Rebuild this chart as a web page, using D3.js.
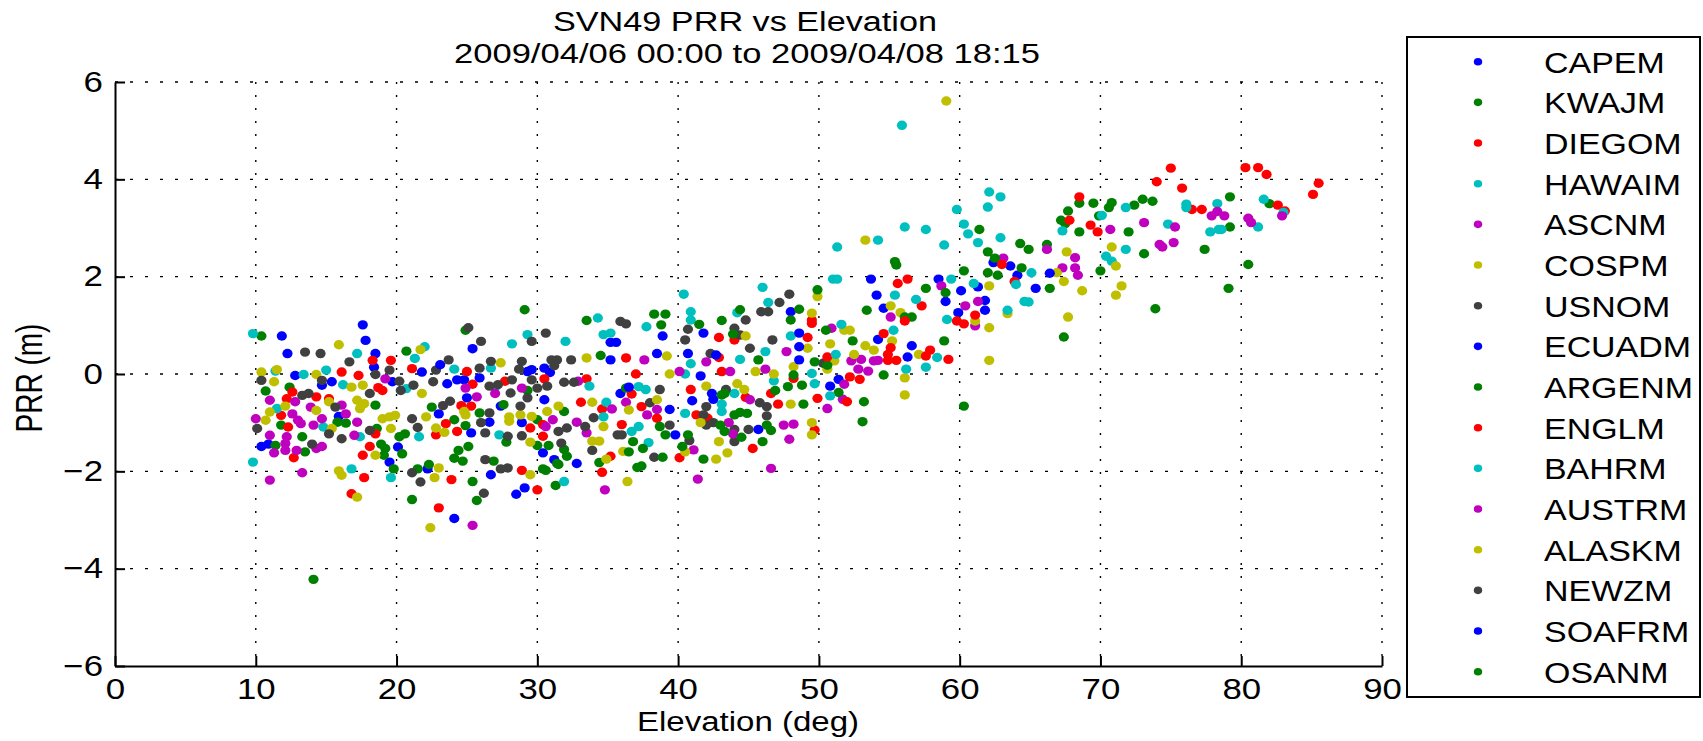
<!DOCTYPE html>
<html><head><meta charset="utf-8">
<script src="https://cdn.jsdelivr.net/npm/d3@7"></script>
<style>
body{margin:0;background:#fff;overflow:hidden;}
svg text{font-family:"Liberation Sans",Arial,Helvetica,sans-serif;fill:#000;}
</style></head><body>
<svg id="chart" width="1703" height="741"></svg>
<script>
// ---------------- DATA ----------------
const titleLines = ["SVN49 PRR vs Elevation", "2009/04/06 00:00 to 2009/04/08 18:15"];
const xLabel = "Elevation (deg)";
const yLabel = "PRR (m)";
const xTicks = [0,10,20,30,40,50,60,70,80,90];
const yTicks = [-6,-4,-2,0,2,4,6];
const stations = ["CAPEM","KWAJM","DIEGOM","HAWAIM","ASCNM","COSPM","USNOM","ECUADM","ARGENM","ENGLM","BAHRM","AUSTRM","ALASKM","NEWZM","SOAFRM","OSANM"];
const stationColors = ["#0000ff","#008000","#ff0000","#00bfbf","#bf00bf","#bfbf00","#404040","#0000ff","#008000","#ff0000","#00bfbf","#bf00bf","#bfbf00","#404040","#0000ff","#008000"];

// [elevation deg, PRR m]
const CAPEM = [[11.85,0.78],[17.6,1.01],[17.8,0.69],[12.25,0.42],[18.5,0.42],[12.8,-0.03],[18.4,0.14],[21.8,0.04],[14.7,-0.23],[15.4,-0.16],[19.7,-0.16],[23,-0.82],[15.9,-0.87],[10.4,-1.49],[10.9,-1.44],[20.1,-1.5],[19.5,-1.81],[22.2,-1.95],
 [53.7,1.95],[54.1,1.62],[54.6,1.35],[58.5,1.95],[59,1.49],[60.1,1.71],[59.9,1.26],[61.3,1.79],[61.8,1.51],[61.8,1.31],[62.4,2.29],[63.6,2.22],[64.1,2.03],[54.2,0.71],[56.3,0.35],[56.6,0.58],[51.4,-0.11],[50.8,-0.25]];
const ECUADM = [[25.4,0.52],[23.1,0.19],[29.3,0.05],[29.6,0.09],[30.5,0.12],[35.2,0.29],[35.2,0.65],[35.6,0.65],[30.9,0.03],[23.6,-0.2],[24.3,-0.12],[24.8,-0.12],[25.9,-0.08],[30.5,-0.53],[25,-0.49],[27.4,-0.66],[26.6,-0.99],[25.3,-1.21],[28.9,-1.0],[30.4,-1.62],[35.9,-0.4],[32.8,-1.84],[31.2,-1.76],[26.7,-2.07],[29.1,-2.34],[28.5,-2.47],[24.1,-2.97]];
const SOAFRM = [[38.9,0.78],[38.5,0.42],[41.8,0.84],[40.7,0.42],[42.7,0.39],[48,1.28],[48.6,0.84],[48.6,0.56],[48.6,0.29],[41.6,-0.04],[42.4,-0.4],[42.5,-0.52],[41,-0.55],[45.7,-1.14],[39.8,-1.25],[39.4,-0.73],[36.5,-0.27],
 [66.4,2.07],[65.4,1.76]];
const KWAJM = [[10.4,0.78],[20.7,0.47],[10.7,-0.35],[12.4,-0.27],[18.5,-0.64],[22.5,-0.68],[11.8,-1.05],[15.8,-0.99],[16.4,-1.01],[18.6,-1.12],[20.2,-1.29],[20.6,-1.23],[13.3,-1.29],[11.4,-1.47],[13.5,-1.6],[18.9,-1.44],[19.2,-1.53],[20.4,-1.64],[19.1,-1.67],[19.8,-1.95],[21.5,-1.95],[22.3,-1.86],[21.1,-2.58],[14.1,-4.22],
 [64.9,2.56],[66.2,2.66],[66.4,1.76],[67.4,0.76],[67.7,3.35],[67.2,3.16],[67.5,3.09],[68.5,3.51],[68.5,2.92],[69.5,3.51],[69.9,3.25],[70.6,3.42],[70.8,3.52],[70,2.12],[72,2.92],[72.4,3.47],[73,3.59],[73.7,3.55],[73.1,2.47],[73.9,1.34],[77.4,2.56],[79.2,3.64],[79.2,3.02],[82,3.5],[80.5,2.25],[79.1,1.76]];
const ARGENM = [[29.1,1.32],[24.9,0.9],[33.5,1.1],[34.5,0.38],[29.3,-0.34],[27.6,-0.63],[25.9,-0.8],[24.9,-1.06],[24.1,-0.94],[30,-0.94],[31.9,-0.77],[27.8,-1.4],[30,-1.47],[30.8,-1.47],[36.3,-0.29],[31.9,-1.55],[32.1,-1.69],[34.4,-1.82],[31.4,-1.84],[31.5,-1.86],[26.9,-1.79],[24.7,-1.79],[24.1,-1.73],[24.4,-1.57],[25.1,-1.49],[25.4,-2.21],[30.4,-1.95],[30.6,-1.98],[31.3,-2.29],[25.7,-2.6],
 [61.4,2.97],[55.4,2.31],[55.5,2.24],[57.6,1.76],[53.4,1.31],[56.1,1.17],[56.6,1.17],[59,1.67],[60.3,2.12],[62,2.51],[62.5,2.38],[62,2.08],[62.7,2.03],[64.3,2.68],[64.4,2.18],[60.3,-0.66],[50.5,0.9],[52.4,0.68],[58.9,0.68],[54.6,-0.02],[50.6,0.18],[51.4,-0.38],[53.2,-0.57],[53.1,-0.98]];
const OSANM = [[38.3,1.23],[39.1,1.23],[38.8,1.01],[41.5,1.02],[43.1,1.1],[44.4,1.32],[43.9,0.82],[48.6,1.33],[48,1.11],[49.9,1.73],[45.7,0.29],[48.2,-0.02],[49.7,0.25],[48.8,-0.23],[47.8,-0.26],[46.9,-0.34],[43.3,-0.4],[43.1,-0.43],[48.9,-0.62],[43,-1.05],[44,-0.84],[44.4,-0.79],[44.9,-0.81],[46.3,-1.05],[46.6,-1.16],[43.3,-1.18],[40.7,-1.25],[40.3,-1.49],[41.8,-1.75],[44.5,-1.3],[46,-1.39],[39.1,-1.25],[38.7,-1.08],[36.8,-1.39],[37.5,-1.53],[38.9,-1.71],[37.1,-1.92],[37.4,-1.89],[36.5,-1.6]];
const DIEGOM = [[18.3,0.28],[19.6,0.28],[16.1,0.04],[17.3,-0.03],[21.1,0.11],[18.7,-0.28],[19,-0.34],[12.6,-0.37],[14.3,-0.47],[15.2,-0.51],[12.2,-0.51],[11.8,-0.85],[12.3,-1.09],[18.5,-1.23],[12.7,-1.72],[18.1,-1.49],[17.6,-1.67],[17.7,-2.13],[16.8,-2.46],[23,-2.75],
 [37,0.0],[42.9,0.75],[44,0.7],[42.9,0.34],[49.5,1.11],[49.5,1.04],[49.2,0.75],[43.1,0.05],[48.2,-0.09],[46.6,-0.4],[40.9,-0.32],[44.8,-0.48],[47.1,-0.62],[49.9,-0.5],[41.3,-0.84],[42.1,-0.91],[40.1,-1.72],[45.3,-1.53],[49.7,-1.15],[38.5,-0.91],[37.4,-0.67],[36.7,-0.41],
 [67.8,3.16],[68.5,3.64],[69.3,3.06],[69.8,2.92],[74,3.95],[75,4.23],[75.8,3.82],[76.5,3.38],[77.2,3.38],[80.3,4.24],[81.2,4.24],[81.8,4.1],[85.5,3.92],[85.1,3.69],[82.6,3.47],[83.1,3.35]];
const ENGLM = [[25,0.05],[36.3,0.33],[25.4,-0.21],[27.7,-0.15],[30.5,-0.1],[33.5,-0.1],[24.6,-0.65],[25.3,-0.66],[23.5,-1.02],[22.8,-1.25],[24.3,-1.18],[30.4,-1.04],[29.5,-1.11],[30.4,-1.28],[34.6,-0.72],[33.1,-0.58],[36,-1.04],[35.2,-1.69],[23.9,-2.17],[28.9,-1.98],[30,-2.38],[34.6,-2.02],
 [55.6,1.86],[56.3,1.95],[57.3,1.4],[56.1,1.09],[59.8,1.09],[60.3,1.03],[61.1,1.21],[63,2.25],[63.9,1.9],[54.6,0.83],[55.1,0.54],[54.9,0.4],[50.6,0.35],[54.9,0.28],[55.5,0.28],[57.6,0.37],[57.9,0.49],[59.2,0.3],[52.9,-0.11],[52.2,-0.06],[52,-0.57]];
const HAWAIM = [[9.8,0.83],[17.2,0.42],[22,0.56],[21.3,0.32],[11.4,0.06],[13.4,-0.01],[15,0.08],[16.2,-0.22],[20.7,-0.3],[11.5,-0.71],[14.8,-1.09],[17.4,-1.29],[21.6,-1.29],[9.8,-1.81],[16.8,-1.95],[19.6,-2.13],
 [37.75,0.97],[40.4,1.64],[40.9,1.28],[40.9,1.11],[44.2,1.26],[46,1.78],[46.4,1.47],[48,0.78],[46.2,0.46],[44.4,0.3],[40.9,0.21],[40.5,0.0],[46.8,-0.14],[49.5,0.01],[49.7,-0.2],[44,-0.4],[43.1,-0.62],[43.1,-0.77],[40.5,-0.81],[37.2,-0.26],[37.7,-0.32],[37.2,-1.08],[36.7,-1.18],[37.9,-1.41],
 [65.1,2.08],[64.9,1.48],[67.3,2.94],[70.1,3.26],[70.4,2.42],[70.8,2.32],[71.8,2.56],[71.8,3.42],[76.1,3.49],[76.1,3.42],[74.8,3.08],[78.3,3.5],[77.8,2.92],[78.4,2.97],[78.6,2.97],[81.6,3.59],[83,3.32],[81.2,3.02]];
const BAHRM = [[34.3,1.15],[29.3,0.81],[28.2,0.62],[32,0.67],[34.7,0.81],[35.2,0.84],[24.1,0.1],[26.7,0.12],[33.7,-0.25],[27,-0.27],[27.3,-1.25],[34.7,-0.88],[34.9,-0.58],[31.9,-2.21],
 [55.9,5.11],[62.1,3.74],[62.9,3.64],[62,3.43],[59.8,3.38],[56.1,3.02],[57.6,2.97],[60.3,3.08],[60.6,2.88],[61.3,2.7],[62.9,2.8],[58.9,2.65],[51.3,2.61],[54.2,2.75],[51,1.95],[51.3,1.95],[55.4,1.62],[56.9,1.53],[59.4,1.95],[59.1,1.12],[61,1.86],[64,1.84],[63.4,1.31],[64.6,1.49],[51.6,1.02],[55.3,0.9],[51.2,0.4],[58.4,0.34],[57.6,0.14],[56.2,0.1],[50.8,-0.45]];
const ASCNM = [[19.2,-0.1],[11,-0.54],[12.8,-0.57],[12.6,-0.82],[13,-0.95],[13.9,-0.68],[14.7,-0.92],[16.1,-0.64],[16.4,-0.82],[10,-0.92],[13.2,-1.02],[14.1,-1.05],[17.2,-0.99],[17,-1.26],[11,-1.26],[12.2,-1.29],[12.1,-1.43],[14.7,-1.49],[14.3,-1.53],[11.3,-1.62],[12.1,-1.57],[12.9,-1.57],[13.3,-2.03],[11,-2.18],
 [55.1,1.17],[58.7,1.81],[60.4,1.4],[61.1,0.99],[61.3,1.49],[63.1,2.38],[50.9,0.94],[52.3,0.27],[53,0.3],[53.9,0.27],[54.2,0.28],[52.8,0.1],[53.5,0.06],[51.8,-0.21],[51.7,-0.52],[50.6,-0.71]];
const AUSTRM = [[24.9,-0.29],[32.9,-0.15],[28.9,-0.29],[27,-0.4],[25.7,-0.47],[30.6,-1.08],[31.1,-0.94],[32.8,-0.99],[33.5,-1.21],[35.3,-0.72],[36.3,-0.58],[25.4,-3.11],[34.8,-2.38],
 [37.6,0.29],[47.7,0.46],[42,0.25],[40.1,0.05],[43.7,0.05],[46.2,0.1],[45.1,-0.53],[43.6,-1.0],[43.9,-1.23],[41.1,-1.56],[47.5,-1.05],[48.2,-1.03],[47.9,-1.34],[46.6,-1.94],[41.4,-2.16],[38.5,-0.73],[37.8,-0.84],
 [66.2,2.56],[67.3,2.18],[68.2,2.18],[68.4,2.03],[68.2,2.39],[70.7,2.97],[73.1,3.11],[75.3,3.02],[74.2,2.66],[74.4,2.61],[75.2,2.7],[77.9,3.25],[78.3,3.34],[78.8,3.25],[82.9,3.25],[80.5,3.2],[80.7,3.11]];
const COSPM = [[15.9,0.6],[21.7,0.5],[10.4,0.04],[11.5,0.09],[14.3,-0.01],[11.3,-0.16],[16.8,-0.27],[17.6,-0.23],[21.8,-0.4],[15.2,-0.57],[11,-0.78],[12.1,-0.66],[14.3,-0.75],[17.2,-0.54],[17.7,-0.61],[17.4,-0.71],[19,-0.92],[19.5,-0.88],[19.9,-0.85],[22.1,-0.88],[10.7,-0.95],[15.4,-1.12],[19.6,-1.12],[18.5,-1.67],[15.9,-1.99],[16.1,-2.08],[22.7,-2.13],[17.2,-2.53],[22.4,-3.16],
 [59.05,5.61],[53.3,2.75],[55.1,1.4],[55.8,1.26],[61.1,1.09],[62.1,1.81],[62.1,0.95],[62.1,0.28],[63.4,1.24],[51.8,0.9],[52.2,0.9],[50.8,0.62],[55.2,0.68],[53.3,0.58],[53.9,0.49],[51.1,0.27],[52.5,0.4],[57.1,0.4],[56.1,-0.08],[56.1,-0.43],[50.6,0.1]];
const ALASKM = [[27.4,0.23],[33.5,0.33],[24.8,-0.77],[24.9,-0.84],[22.8,-1.11],[23.4,-1.2],[28,-0.88],[28,-0.97],[28.8,-0.84],[29.6,-0.87],[30.7,-0.77],[31.5,-0.66],[29.5,-1.4],[34.7,-1.08],[33.9,-0.58],[33.9,-1.38],[34.4,-1.38],[34.9,-1.75],[36.1,-1.59],[23,-1.93],[29.5,-2.07],[36.4,-2.21],
 [39.2,0.37],[39.4,0.0],[44.8,0.78],[49.5,1.25],[49.9,1.59],[49.2,0.53],[45.5,0.05],[46.8,0.0],[48.2,0.15],[44.2,-0.2],[44.7,-0.32],[42,-0.25],[48,-0.62],[41.6,-1.0],[40.5,-1.6],[42.7,-1.75],[43.5,-1.62],[42.9,-1.39],[49.5,-1.0],[49.5,-1.25],[38.5,-0.53],[36.5,-0.74],
 [66.9,2.08],[67.6,2.51],[67.4,1.9],[68.7,1.71],[67.7,1.17],[70.8,2.61],[71.1,2.22],[71.5,1.81],[71.1,1.62]];
const USNOM = [[13.5,0.45],[14.6,0.42],[16.65,0.25],[22.8,0.08],[18.5,-0.01],[19.5,0.08],[10.4,-0.13],[14.7,-0.13],[20.2,-0.15],[20.3,-0.34],[21.2,-0.23],[22.6,-0.16],[13.3,-0.44],[13.75,-0.4],[15.65,-0.68],[18.1,-0.4],[21.1,-0.92],[10.1,-1.12],[16.1,-1.33],[15.2,-1.23],[18.1,-1.16],[21.5,-1.1],[14,-1.44],[21.1,-2.03],[21.7,-2.22],
 [40.7,0.92],[40.5,0.7],[44,0.94],[44.8,1.11],[44.4,0.8],[45.1,0.53],[42.3,0.42],[47.2,1.47],[47.9,1.64],[45.9,1.28],[46.4,1.28],[46.7,0.7],[50.3,0.22],[43.4,-0.32],[45.8,-0.59],[42,-0.67],[41.8,-0.84],[42,-1.05],[42.5,-1.0],[45,-1.14],[46.3,-0.86],[46.3,-0.67],[44,-1.14],[40.8,-1.37],[44,-1.39],[39.4,-1.05],[38,-0.59],[38.7,-0.32],[38.3,-1.71]];
const NEWZM = [[25.1,0.95],[35.9,1.08],[36.3,1.03],[30.6,0.84],[29.6,0.67],[26,0.67],[23.7,0.29],[25.9,0.12],[26.7,0.26],[28.9,0.26],[28.7,0.1],[31,0.29],[31.4,0.29],[32.4,0.29],[31.2,0.17],[26.6,-0.25],[27.2,-0.22],[28.2,-0.12],[29.6,-0.12],[30,-0.29],[30.7,-0.25],[31.9,-0.17],[32.6,-0.17],[28.1,-0.39],[29.3,-0.49],[23.8,-0.56],[23.3,-0.65],[26.6,-0.8],[28.8,-0.66],[26,-1.0],[26.3,-1.21],[28.9,-1.27],[27.9,-1.28],[31.7,-1.42],[31.5,-1.18],[32.1,-1.11],[33.4,-1.08],[34,-0.9],[35.7,-1.25],[36,-1.25],[33.9,-1.57],[26.3,-1.76],[27.4,-1.95],[27.9,-1.93],[26.2,-2.45]];

const seriesData = [CAPEM,KWAJM,DIEGOM,HAWAIM,ASCNM,COSPM,USNOM,ECUADM,ARGENM,ENGLM,BAHRM,AUSTRM,ALASKM,NEWZM,SOAFRM,OSANM];

// ---------------- DRAWING ----------------
const W = 1703, H = 741;
const plot = {left:115, right:1382, top:82, bottom:666};
const x = d3.scaleLinear().domain([0,90]).range([plot.left, plot.right]);
const y = d3.scaleLinear().domain([-6,6]).range([plot.bottom, plot.top]);
const svg = d3.select("#chart");
svg.append("rect").attr("width",W).attr("height",H).attr("fill","#fff");

function stretch(sel, k){
  sel.each(function(){
    const l = this.getComputedTextLength();
    this.setAttribute("textLength", (l*k).toFixed(1));
    this.setAttribute("lengthAdjust","spacingAndGlyphs");
  });
}

// grid
const grid = svg.append("g");
grid.selectAll("line.gx").data(xTicks.filter(d=>d!==0)).join("line").attr("class","gx")
  .attr("x1",d=>x(d)).attr("x2",d=>x(d)).attr("y1",plot.top).attr("y2",plot.bottom)
  .attr("stroke","#000").attr("stroke-width",1.4).attr("stroke-dasharray","2,11");
grid.selectAll("line.gy").data(yTicks.filter(d=>d!==-6)).join("line").attr("class","gy")
  .attr("x1",plot.left).attr("x2",plot.right).attr("y1",d=>y(d)).attr("y2",d=>y(d))
  .attr("stroke","#000").attr("stroke-width",1.4).attr("stroke-dasharray","3,12");

// points
seriesData.forEach((pts,i)=>{
  svg.append("g").selectAll("ellipse").data(pts).join("ellipse")
    .attr("cx",d=>x(d[0])).attr("cy",d=>y(d[1]))
    .attr("rx",5.1).attr("ry",4.7).attr("fill",stationColors[i]);
});

// axes
const fmt = d3.format("d");
const gx = svg.append("g").attr("transform",`translate(0,${plot.bottom})`)
  .call(d3.axisBottom(x).tickValues(xTicks).tickSizeInner(-10).tickSizeOuter(0).tickPadding(12).tickFormat(fmt));
const gy = svg.append("g").attr("transform",`translate(${plot.left},0)`)
  .call(d3.axisLeft(y).tickValues(yTicks).tickSizeInner(-10).tickSizeOuter(0).tickPadding(12).tickFormat(fmt));
[gx,gy].forEach(g=>{
  g.attr("font-family",null).attr("font-size",null);
  g.select(".domain").attr("stroke","#000").attr("stroke-width",2);
  g.selectAll(".tick line").attr("stroke","#000").attr("stroke-width",2);
  g.selectAll(".tick text").attr("font-size","29px").attr("fill","#000");
  stretch(g.selectAll(".tick text"),1.2);
});

// title
svg.append("text").attr("x",745).attr("y",31).attr("text-anchor","middle").attr("font-size","27px")
  .attr("textLength",384).attr("lengthAdjust","spacingAndGlyphs").text(titleLines[0]);
svg.append("text").attr("x",747).attr("y",63).attr("text-anchor","middle").attr("font-size","27px")
  .attr("textLength",586).attr("lengthAdjust","spacingAndGlyphs").text(titleLines[1]);

// axis labels
svg.append("text").attr("x",748).attr("y",731).attr("text-anchor","middle").attr("font-size","27px")
  .attr("textLength",222).attr("lengthAdjust","spacingAndGlyphs").text(xLabel);
svg.append("text").attr("transform","translate(42,378) scale(1.3,1) rotate(-90)")
  .attr("text-anchor","middle").attr("font-size","28px").text(yLabel);

// legend
const leg = svg.append("g");
leg.append("rect").attr("x",1407).attr("y",37).attr("width",293).attr("height",660)
  .attr("fill","#fff").attr("stroke","#000").attr("stroke-width",2);
const legY = d3.scaleLinear().domain([0,15]).range([61.7,671.7]);
stations.forEach((s,i)=>{
  leg.append("ellipse").attr("cx",1478).attr("cy",legY(i)).attr("rx",4.2).attr("ry",3.8).attr("fill",stationColors[i]);
  const t = leg.append("text").attr("x",1544).attr("y",legY(i)+11).attr("font-size","29px").text(s);
  stretch(t,1.17);
});
</script>
</body></html>
